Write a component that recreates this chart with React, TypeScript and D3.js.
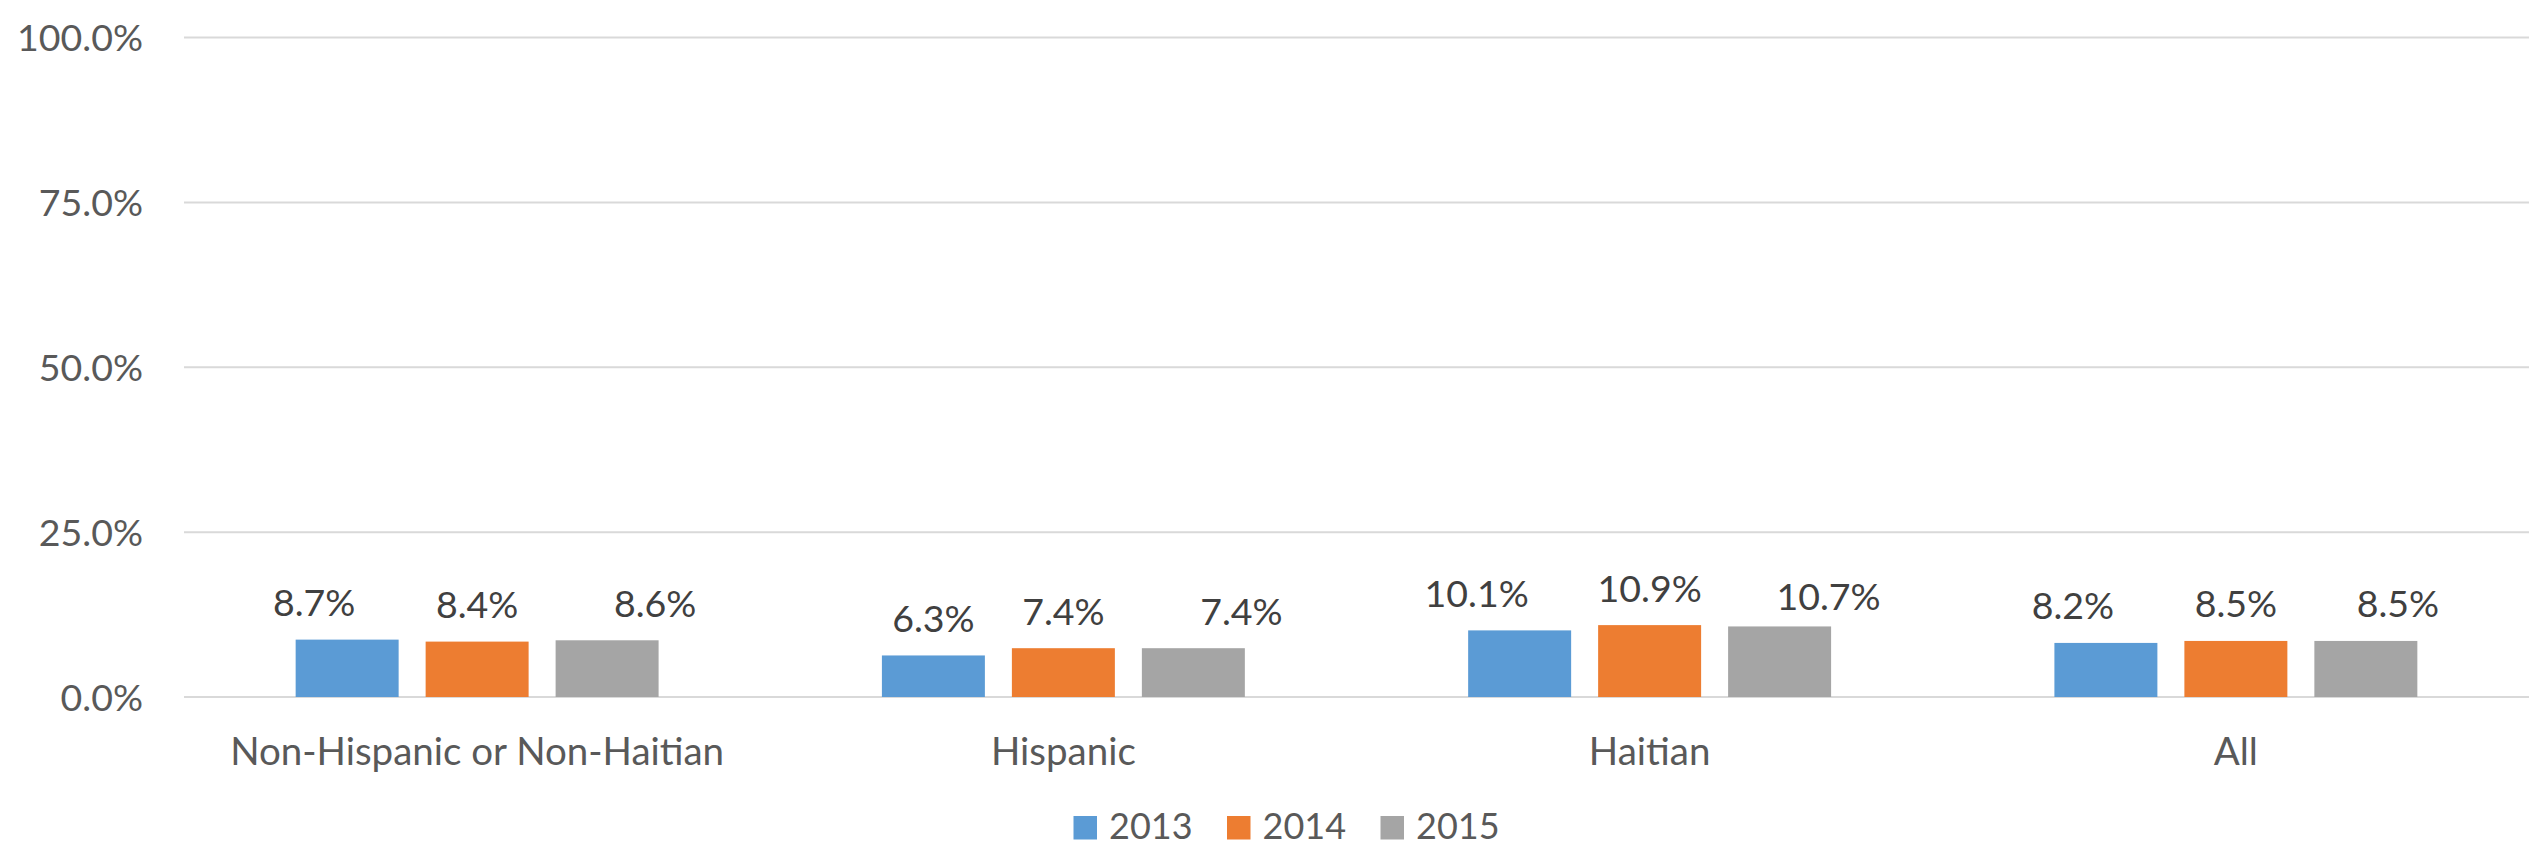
import React from "react";
import * as d3 from "d3";

const categories = ["Non-Hispanic or Non-Haitian", "Hispanic", "Haitian", "All"];
const seriesNames = ["2013", "2014", "2015"];
const values2013 = [8.7, 6.3, 10.1, 8.2];
const values2014 = [8.4, 7.4, 10.9, 8.5];
const values2015 = [8.6, 7.4, 10.7, 8.5];
const yTicks = [0, 25, 50, 75, 100];
const colors = ["#5B9BD5", "#ED7D31", "#A5A5A5"];
// manual label nudges (relative to bar centre / top), as in the source
const labelDx = [[-33, 0, 48], [0, 0, 48], [-43, 0, 49], [-33, 0, 32]];
const labelDy = [[-23.5, -23.5, -23.5], [-23.5, -23.5, -23.5], [-23.5, -23.5, -16], [-23.5, -23.5, -23.5]];

const W = 2529;
const H = 847;
const FONT = "Lato, 'Open Sans', sans-serif";

export default function App() {
  const seriesValues = [values2013, values2014, values2015];
  const x0 = d3.scaleBand<string>().domain(categories).range([184, 2529]).paddingInner(0).paddingOuter(0);
  const x1 = d3
    .scaleBand<string>()
    .domain(seriesNames)
    .range([0, x0.bandwidth()])
    .paddingInner(0.2077)
    .paddingOuter(0.859);
  const y = d3.scaleLinear().domain([0, 100]).range([697, 37.5]);
  const fmt = (v: number) => d3.format(".1f")(v) + "%";

  const legendStart = 1073.5;
  const legendStep = 153.5;

  return (
    <svg width={W} height={H} style={{ position: "absolute", left: 0, top: 0, background: "#fff" }} fontFamily={FONT}>
      <rect x={0} y={0} width={W} height={H} fill="#fff" />
      {yTicks.map((t) => (
        <g key={t}>
          <line x1={184} x2={2529} y1={y(t)} y2={y(t)} stroke="#D9D9D9" strokeWidth={2} />
          <text x={143} y={y(t) + 13.5} textAnchor="end" fontSize={37.5} fill="#595959">
            {d3.format(".1f")(t) + "%"}
          </text>
        </g>
      ))}
      {categories.map((c, ci) => (
        <g key={c} transform={`translate(${x0(c)},0)`}>
          {seriesNames.map((s, si) => {
            const v = seriesValues[si][ci];
            const bx = x1(s)!;
            const bw = x1.bandwidth();
            return (
              <g key={s}>
                <rect x={bx} y={y(v)} width={bw} height={y(0) - y(v)} fill={colors[si]} />
                <text
                  x={bx + bw / 2 + labelDx[ci][si]}
                  y={y(v) + labelDy[ci][si]}
                  textAnchor="middle"
                  fontSize={37.5}
                  fill="#404040"
                >
                  {fmt(v)}
                </text>
              </g>
            );
          })}
          <text x={x0.bandwidth() / 2} y={765} textAnchor="middle" fontSize={38.5} fill="#595959">
            {c}
          </text>
        </g>
      ))}
      {seriesNames.map((s, si) => (
        <g key={s} transform={`translate(${legendStart + si * legendStep},0)`}>
          <rect x={0} y={816} width={23.5} height={23.5} fill={colors[si]} />
          <text x={35.5} y={839} fontSize={36} fill="#595959">
            {s}
          </text>
        </g>
      ))}
    </svg>
  );
}
